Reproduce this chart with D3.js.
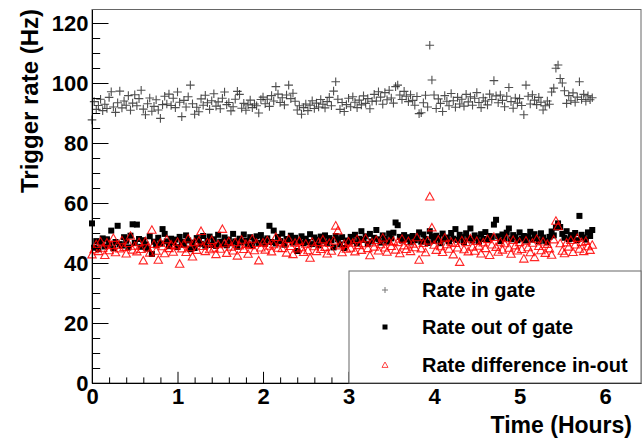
<!DOCTYPE html>
<html>
<head>
<meta charset="utf-8">
<script src="https://cdn.jsdelivr.net/npm/d3@7"></script>
<style>
html,body{margin:0;padding:0;background:#fff;}
svg{display:block;}
text{font-family:"Liberation Sans",Arial,Helvetica,sans-serif;font-weight:bold;fill:#000;}
</style>
</head>
<body>
<svg id="chart" width="643" height="439"></svg>
<script>
// ---- data (time step 0.025 h, starting at 0 h) ----
const startHour = 0;
const stepHours = 0.025;

const rateInGate = [
  87.7,93.8,91.2,92.5,94.6,90.8,92.9,91.5,95.2,97.1,92.0,90.2,93.4,97.3,91.7,94.0,92.6,95.8,90.9,93.3,
  96.1,92.4,94.8,97.6,91.3,89.4,93.1,95.0,90.6,92.2,94.4,91.0,88.2,92.8,95.6,93.0,96.3,92.5,94.9,91.8,
  97.0,93.6,88.8,94.2,92.0,95.4,99.3,93.1,89.6,91.9,90.4,94.7,92.6,95.9,93.4,91.2,94.1,96.4,92.3,93.7,
  91.4,94.9,97.0,92.8,93.5,90.7,92.1,94.6,97.2,96.2,91.6,93.2,90.9,92.7,94.3,91.8,93.0,92.4,90.0,94.5,
  95.3,93.1,94.6,92.2,95.8,94.0,98.8,96.3,93.5,95.1,92.7,96.0,99.3,94.8,96.6,93.9,91.0,92.4,89.6,91.8,
  93.0,90.8,92.6,94.1,91.5,93.3,92.0,94.5,92.9,91.7,93.8,95.2,92.4,97.3,100.4,94.6,91.2,93.5,90.5,92.8,
  94.9,92.1,95.4,93.6,91.8,94.3,92.7,95.7,93.2,94.8,91.4,93.9,96.2,94.0,97.1,95.3,92.9,96.8,94.4,97.6,
  95.0,93.3,98.8,99.3,96.0,94.5,97.2,95.6,93.8,96.1,94.2,92.6,95.5,89.8,90.1,93.4,95.9,92.0,112.6,101.0,
  96.0,91.5,94.7,93.2,90.5,95.8,93.9,92.4,96.5,94.1,91.9,95.2,93.0,94.6,92.3,96.2,93.7,95.4,92.6,94.9,
  96.8,93.5,91.8,95.1,94.0,92.7,96.3,94.5,100.8,95.7,93.4,96.0,94.2,92.1,95.6,98.5,93.8,91.6,95.0,93.3,
  94.8,92.5,89.4,99.3,95.6,93.0,96.1,94.3,92.8,95.2,93.6,91.0,92.4,94.0,92.9,97.0,98.3,104.9,106.0,101.5,
  100.0,97.4,93.2,95.8,94.1,96.7,93.6,95.3,100.4,94.5,96.2,93.9,95.7,94.4,95.1
];

const rateOutGate = [
  53.2,45.1,47.3,44.6,46.8,48.2,45.5,47.9,46.1,50.8,44.9,47.0,52.4,46.3,45.8,48.6,47.4,45.2,49.1,52.9,
  46.7,52.8,48.0,45.4,47.6,46.2,44.8,48.9,43.0,47.1,45.9,48.4,46.5,51.3,49.7,47.2,45.6,48.1,46.9,47.8,
  45.3,48.7,47.0,46.1,49.2,47.5,44.6,46.8,45.0,48.3,47.7,46.4,49.0,45.8,47.3,48.8,46.0,47.9,45.7,49.4,
  47.1,46.3,48.5,45.9,47.8,46.6,49.7,47.2,45.4,48.1,46.9,49.5,47.4,46.2,48.6,45.8,47.5,48.9,46.7,49.3,
  47.6,46.4,48.2,52.4,47.0,50.8,46.5,48.7,47.3,49.8,46.1,48.0,47.7,49.1,46.8,48.4,44.0,47.2,48.9,46.6,
  48.1,47.0,49.6,46.3,48.5,47.8,45.9,48.8,47.4,49.2,46.7,48.3,47.6,45.2,49.0,47.9,46.2,48.6,45.0,47.5,
  46.9,48.7,47.3,49.4,46.5,48.1,50.6,47.7,48.9,46.4,49.7,47.2,48.4,51.0,47.9,46.8,49.2,48.0,47.1,49.8,
  48.2,50.1,53.5,52.6,48.7,47.5,49.3,47.9,48.6,46.9,49.0,47.6,48.3,50.2,47.1,49.5,48.0,46.7,50.6,48.8,
  47.4,49.1,48.3,46.6,49.8,47.9,48.5,47.2,50.0,48.1,51.3,47.7,49.4,48.6,47.0,49.9,48.2,51.5,47.5,49.2,
  48.4,47.1,49.6,48.0,50.3,47.8,49.0,48.7,52.8,54.4,48.9,47.3,49.5,48.2,50.1,51.5,47.9,49.3,48.6,47.6,
  50.2,48.1,49.0,47.5,48.8,50.4,47.8,49.6,48.3,47.2,49.9,48.5,47.4,46.9,48.7,50.5,49.2,51.8,53.2,52.0,
  49.7,48.4,50.6,47.9,49.3,48.1,50.0,47.6,55.7,49.4,48.5,47.8,50.2,49.0,51.0
];

const rateDiff = [
  42.8,44.5,46.2,43.9,47.1,45.0,42.6,46.8,44.2,45.9,48.3,43.5,46.0,44.8,47.5,45.3,43.1,46.6,49.0,44.4,
  45.7,43.8,46.9,44.6,40.8,47.2,45.1,43.4,51.0,46.3,44.0,41.0,46.7,45.5,43.2,47.8,44.9,46.1,43.7,45.8,
  47.0,39.7,44.8,46.4,43.6,48.1,45.2,42.1,46.9,44.3,47.4,50.6,45.6,43.9,46.8,44.5,47.6,45.0,42.9,46.2,
  44.7,51.3,46.5,43.3,47.2,45.4,44.1,46.9,42.4,45.8,47.7,44.6,46.3,43.0,45.9,48.0,44.2,46.6,40.8,45.1,
  46.8,44.4,47.5,45.7,43.8,46.2,48.6,45.0,47.1,44.9,46.5,43.4,47.9,45.6,42.9,46.7,44.8,47.3,45.2,43.6,
  46.4,44.2,41.7,47.0,45.5,43.9,46.9,44.6,47.8,45.3,43.1,46.6,44.0,47.4,52.4,50.8,45.8,43.5,46.3,44.7,
  47.1,45.0,46.7,43.8,47.9,45.9,44.3,46.5,48.2,44.9,42.5,46.8,45.4,47.6,44.1,46.2,48.4,45.1,43.7,47.0,
  45.6,47.3,44.4,46.9,43.2,48.0,45.8,44.6,47.2,43.9,46.4,45.2,48.5,41.0,44.8,46.6,43.5,47.4,62.1,51.8,
  46.0,44.3,47.7,45.5,43.6,48.4,46.2,44.7,47.0,42.8,46.6,45.1,40.3,47.5,44.5,46.9,43.8,48.1,45.4,44.0,
  47.3,45.7,43.1,46.8,44.9,47.9,42.6,46.1,48.6,45.3,43.7,47.0,44.4,46.5,48.2,45.0,43.0,47.6,45.8,44.1,
  46.9,44.6,41.4,47.4,45.2,43.5,46.7,41.9,48.0,45.6,44.2,47.1,43.3,46.3,44.8,42.7,47.8,54.0,52.2,46.5,
  44.0,43.2,46.8,45.4,47.6,43.6,46.1,48.3,44.7,46.9,43.9,47.3,45.5,44.3,46.0
];

const xTicks = [0,1,2,3,4,5,6];
const yTicks = [0,20,40,60,80,100,120];
const legendLabels = ["Rate in gate","Rate out of gate","Rate difference in-out"];
const xTitle = "Time (Hours)";
const yTitle = "Trigger rate (Hz)";

// ---- layout ----
const svg = d3.select("#chart");
const L = 92, R = 641, T = 9.5, B = 383;
const x = d3.scaleLinear().domain([0, 6.42]).range([L, R]);
const y = d3.scaleLinear().domain([0, 124.5]).range([B, T]);
const tOf = i => startHour + i * stepHours;

// frame
svg.append("rect").attr("x", L).attr("y", T).attr("width", R - L).attr("height", B - T)
  .attr("fill", "none").attr("stroke", "#666").attr("stroke-width", 1);

// data marks
const gIn = svg.append("g");
gIn.selectAll("path").data(rateInGate).join("path")
  .attr("transform", (d, i) => `translate(${x(tOf(i))},${y(d)})`)
  .attr("d", "M-4.3,0H4.3M0,-4.3V4.3")
  .attr("stroke", "#222").attr("stroke-width", 1.1).attr("stroke-opacity", 0.8).attr("fill", "none");

const gOut = svg.append("g");
gOut.selectAll("rect").data(rateOutGate).join("rect")
  .attr("x", (d, i) => x(tOf(i)) - 3).attr("y", d => y(d) - 3)
  .attr("width", 6).attr("height", 6).attr("fill", "#000");

const gDiff = svg.append("g");
gDiff.selectAll("path").data(rateDiff).join("path")
  .attr("transform", (d, i) => `translate(${x(tOf(i))},${y(d)})`)
  .attr("d", "M0,-4.2L4.2,3.3L-4.2,3.3Z")
  .attr("fill", "none").attr("stroke", "#ff0000").attr("stroke-width", 1.1).attr("stroke-opacity", 0.85);

// axes (ROOT style: ticks inside)
const yAxis = d3.axisLeft(y).tickValues(d3.range(0, 121, 5)).tickSize(0).tickFormat("");
const gy = svg.append("g").attr("transform", `translate(${L},0)`).call(yAxis);
gy.select(".domain").attr("stroke", "#000");
gy.selectAll(".tick line").attr("x2", d => (d % 20 === 0 ? 16.5 : 8.2)).attr("stroke", "#000");
gy.selectAll(".tick").filter(d => yTicks.includes(d)).append("text")
  .attr("x", -3.5).attr("dy", "0.36em").attr("text-anchor", "end")
  .style("font-size", "22px").text(d => d);

const xAxis = d3.axisBottom(x).tickValues(d3.range(0, 6.41, 0.2)).tickSize(0).tickFormat("");
const gx = svg.append("g").attr("transform", `translate(0,${B})`).call(xAxis);
gx.select(".domain").attr("stroke", "#000");
gx.selectAll(".tick line").attr("y2", d => (Math.abs(d - Math.round(d)) < 1e-6 ? -11.2 : -5.6)).attr("stroke", "#000");
gx.selectAll(".tick").filter(d => xTicks.some(v => Math.abs(v - d) < 1e-6)).append("text")
  .attr("y", 21).attr("text-anchor", "middle")
  .style("font-size", "22px").text(d => Math.round(d));

// axis titles
svg.append("text").attr("x", 632).attr("y", 433).attr("text-anchor", "end")
  .style("font-size", "23px").text(xTitle);
svg.append("text").attr("transform", "translate(38,101) rotate(-90)").attr("text-anchor", "middle")
  .style("font-size", "24px").text(yTitle);

// legend
const lg = svg.append("g");
lg.append("rect").attr("x", 349).attr("y", 271).attr("width", 292).attr("height", 112)
  .attr("fill", "#fff").attr("stroke", "#666").attr("stroke-width", 1);
const rowsY = [290, 327, 365];
legendLabels.forEach((lab, i) => {
  lg.append("text").attr("x", 422).attr("y", rowsY[i]).attr("dy", "0.36em")
    .style("font-size", "20px").text(lab);
});
lg.append("path").attr("transform", `translate(385,${rowsY[0]})`).attr("d", "M-3,0H3M0,-3V3")
  .attr("stroke", "#777").attr("stroke-width", 1);
lg.append("rect").attr("x", 382.5).attr("y", rowsY[1] - 2.5).attr("width", 5).attr("height", 5).attr("fill", "#000");
lg.append("path").attr("transform", `translate(385,${rowsY[2]})`).attr("d", "M0,-3L3,2.4L-3,2.4Z")
  .attr("fill", "none").attr("stroke", "#ff3030").attr("stroke-width", 0.9);
</script>
</body>
</html>
